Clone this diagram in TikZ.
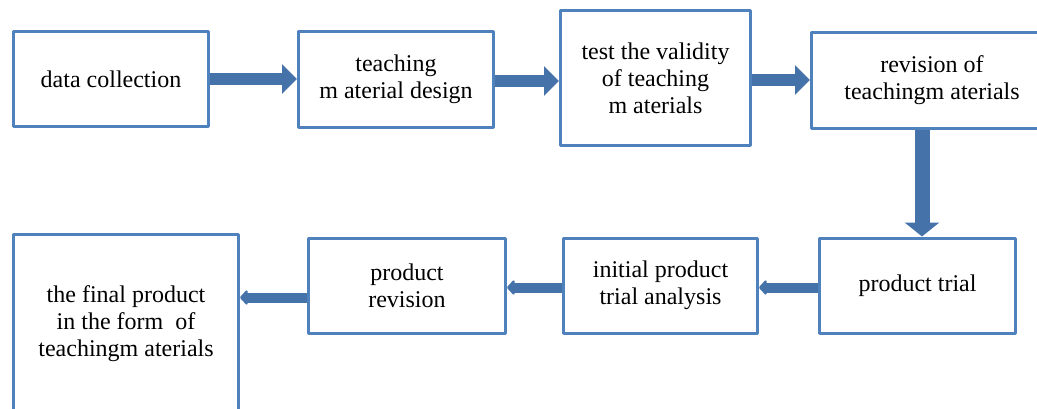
\documentclass[tikz,border=0pt]{standalone}
\usepackage{fontspec}
\setmainfont{Liberation Serif}
\usetikzlibrary{arrows.meta, positioning}
\definecolor{BoxBlue}{HTML}{4F81BD}
\definecolor{ArrowBlue}{HTML}{4672AA}

\tikzset{
    stepbox/.style={draw=BoxBlue, line width=3pt, line join=round, fill=white, align=center,
        font=\fontsize{24}{27}\selectfont, inner sep=2pt},
    bigarrow/.style={ArrowBlue, line width=12pt, -{Triangle[width=29pt, length=15pt]}},
    smallarrow/.style={ArrowBlue, line width=10pt, -{Triangle[width=17pt, length=8pt, round]}},
}

\begin{document}
\begin{tikzpicture}[x=1pt, y=-1pt]
    \useasboundingbox (0,0) rectangle (1037,408);
    % top row
    \node (collect) [stepbox, minimum width=195pt, minimum height=95pt] at (111,79) {data collection};
    \node (design) [stepbox, minimum width=195pt, minimum height=96pt, right=87pt of collect] {teaching\\m aterial design};
    \node (validity) [stepbox, minimum width=190pt, minimum height=135pt, right=64pt of design, yshift=1pt] {test the validity\\of teaching\\m aterials};
    \node (revision) [stepbox, minimum width=241pt, minimum height=96pt, right=58pt of validity, yshift=-2pt] {revision of\\teachingm aterials};

    % bottom row
    \node (trial) [stepbox, minimum width=196pt, minimum height=95pt, below=107pt of revision, xshift=-14.5pt] {product trial};
    \node (analysis) [stepbox, minimum width=194pt, minimum height=95pt, left=59pt of trial] {initial product\\trial analysis};
    \node (prodrev) [stepbox, minimum width=197pt, minimum height=95pt, left=55pt of analysis] {product\\revision};
    \node (final) [stepbox, minimum width=225pt, minimum height=178pt, left=67pt of prodrev, yshift=-38pt] {the final product\\in the form\ \ of\\teachingm aterials};

    \draw[bigarrow] (collect) -- (design);
    \draw[bigarrow] ([yshift=-2pt]design.east) -- ([yshift=-2pt]design.east -| validity.west);
    \draw[bigarrow] ([yshift=-2pt]validity.east) -- ([yshift=-2pt]validity.east -| revision.west);
    \draw[bigarrow, line width=15pt, -{Triangle[width=34pt, length=14pt]}] ([xshift=-10pt]revision.south) -- ([xshift=-10pt]revision.south |- trial.north);

    \draw[smallarrow] ([yshift=-2pt]trial.west) -- ([yshift=-2pt]trial.west -| analysis.east);
    \draw[smallarrow] ([yshift=-2pt]analysis.west) -- ([yshift=-2pt]analysis.west -| prodrev.east);
    \draw[smallarrow] ([yshift=-12pt]prodrev.west) -- ([yshift=-12pt]prodrev.west -| final.east);
\end{tikzpicture}
\end{document}
